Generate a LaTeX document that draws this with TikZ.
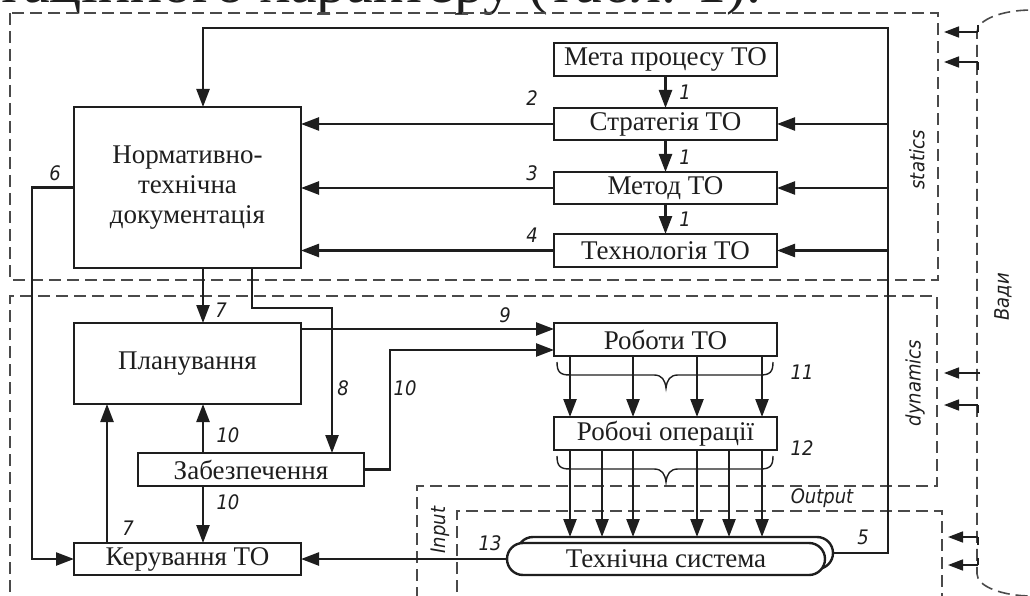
\documentclass[tikz,border=0pt]{standalone}
\usepackage{fontspec}
\setmainfont{Liberation Serif}
\newfontfamily\lbl{DejaVu Sans Condensed}
\usetikzlibrary{arrows.meta}
\definecolor{ink}{HTML}{1E1E1E}
\definecolor{dsh}{HTML}{4A4A4A}
\begin{document}
\begin{tikzpicture}[x=1pt,y=-1pt,
  box/.style={draw=ink,line width=2.4pt,fill=white,inner sep=0pt,outer sep=0pt,
    text=ink,font=\fontsize{27}{30}\selectfont,align=center},
  arr/.style={draw=ink,line width=2.4pt,-{Triangle[length=18pt,width=13pt]}},
  sarr/.style={draw=ink,line width=1.6pt,-{Triangle[length=15pt,width=11pt]}},
  tick/.style={draw=ink,line width=1.6pt},
  dshl/.style={draw=dsh,line width=1.6pt,dash pattern=on 12pt off 6pt},
  brc/.style={draw=ink,line width=1.4pt},
  lab/.style={font=\lbl\itshape\fontsize{20}{22}\selectfont,text=ink,inner sep=0pt},
]
\useasboundingbox (0,0) rectangle (1030,596);
% cut-off page text
\node[anchor=base west,inner sep=0pt,text=ink,font=\fontsize{60}{64}\selectfont] (pagetext) at (-4,3) {таційного характеру (табл. 1).};

% dashed regions
\draw[dshl] (10,13) rectangle (938,280);
\draw[dshl] (10,610) -- (10,296) -- (937,296) -- (937,486) -- (417,486) -- (417,610);
\draw[dshl] (457,610) -- (457,511) -- (942,511) -- (942,610);
\draw[dshl] (1100,10) -- (1032,10) arc[start angle=270,end angle=180,x radius=55,y radius=22]
  -- (977,574) arc[start angle=180,end angle=90,x radius=55,y radius=22] -- (1100,596);

% boxes
\node[box,minimum width=227pt,minimum height=161pt] (ntd) at (187.5,187.5)
  {Нормативно-\\технічна\\документація};
\node[box,minimum width=223pt,minimum height=33pt] (meta) at (665.5,59.5) {Мета процесу ТО};
\node[box,minimum width=223pt,minimum height=32pt] (strat) at (665.5,124) {Стратегія ТО};
\node[box,minimum width=223pt,minimum height=32pt] (metod) at (665.5,188) {Метод ТО};
\node[box,minimum width=223pt,minimum height=33pt] (tech) at (665.5,250.5) {Технологія ТО};
\node[box,minimum width=227pt,minimum height=81pt] (plan) at (187.5,363.5) {Планування};
\node[box,minimum width=226pt,minimum height=33pt] (zab) at (251,469.5) {Забезпечення};
\node[box,minimum width=227pt,minimum height=32pt] (ker) at (187.5,559) {Керування ТО};
\node[box,minimum width=223pt,minimum height=33pt] (rob) at (665.5,339.5) {Роботи ТО};
\node[box,minimum width=223pt,minimum height=33pt] (ops) at (665.5,433.5) {Робочі операції};
\node[box,rounded corners=16pt,minimum width=316pt,minimum height=32pt] (tsb) at (675,553) {};
\node[box,rounded corners=16pt,minimum width=318pt,minimum height=32pt] (tsf) at (666,559) {Технічна система};

% helper coordinates
\coordinate (fbtop) at (888,28);
\coordinate (fbleft) at (203,28);
\coordinate (xA) at (203,0);
\coordinate (xB) at (107,0);
\coordinate (x6) at (32,0);
\coordinate (c8a) at (252,308);
\coordinate (c8b) at (332,308);
\coordinate (y9) at (0,329);
\coordinate (c10) at (390,350);

% static part
\draw[arr] (tsb.east) -| (fbtop) -- (fbleft) -- (fbleft |- ntd.north);
\draw[arr] (fbtop |- strat.east) -- (strat.east);
\draw[arr] (fbtop |- metod.east) -- (metod.east);
\draw[arr] (fbtop |- tech.east) -- (tech.east);
\draw[arr] (meta.south) -- (strat.north);
\draw[arr] (strat.south) -- (metod.north);
\draw[arr] (metod.south) -- (tech.north);
\draw[arr] (strat.west) -- (strat.west -| ntd.east);
\draw[arr] (metod.west) -- (metod.west -| ntd.east);
\draw[arr] (tech.west) -- (tech.west -| ntd.east);
\draw[arr] (ntd.west) -| (x6 |- ker.west) -- (ker.west);

% dynamic part
\draw[arr] (xA |- ntd.south) -- (xA |- plan.north);
\draw[arr] (c8a |- ntd.south) -- (c8a) -- (c8b) -- (c8b |- zab.north);
\draw[arr] (plan.east |- y9) -- (rob.west |- y9);
\draw[arr] (zab.east) -| (c10) -- (rob.west |- c10);
\draw[arr] (xA |- zab.north) -- (xA |- plan.south);
\draw[arr] (xA |- zab.south) -- (xA |- ker.north);
\draw[arr] (xB |- ker.north) -- (xB |- plan.south);
\draw[arr] (tsf.west) -- (ker.east);
\foreach \x [count=\i] in {570,633,697,762}{
  \coordinate (r\i) at (\x,0);
  \draw[arr] (r\i |- rob.south) -- (r\i |- ops.north);
}
\foreach \x [count=\i] in {570,602,633,697,729,762}{
  \coordinate (o\i) at (\x,0);
  \draw[arr] (o\i |- ops.south) -- (o\i |- tsb.north);
}

% braces
\draw[brc] (557,362) .. controls (557,372) and (560,375) .. (570,375) -- (654,375)
  .. controls (662,375) and (665,380) .. (666,388) .. controls (667,380) and (670,375) .. (678,375)
  -- (760,375) .. controls (770,375) and (773,372) .. (773,362);
\draw[brc] (557,456) .. controls (557,466) and (560,469) .. (570,469) -- (654,469)
  .. controls (662,469) and (665,474) .. (666,482) .. controls (667,474) and (670,469) .. (678,469)
  -- (760,469) .. controls (770,469) and (773,466) .. (773,456);

% side input arrows
\draw[sarr] (978,32) -- (944,32); \draw[tick] (978,25) -- (978,32);
\draw[sarr] (978,62) -- (944,62); \draw[tick] (978,62) -- (978,70);
\draw[sarr] (980,373) -- (944,373);
\draw[sarr] (978,405) -- (944,405); \draw[tick] (978,405) -- (978,413);
\draw[sarr] (978,537) -- (948,537); \draw[tick] (978,537) -- (978,545);
\draw[sarr] (978,565) -- (948,565); \draw[tick] (978,558) -- (978,565);

% number labels
\node[lab] (l1a) at (685,92) {1};
\node[lab] (l1b) at (685,157) {1};
\node[lab] (l1c) at (685,219) {1};
\node[lab] (l2) at (532,98) {2};
\node[lab] (l3) at (532,173) {3};
\node[lab] (l4) at (532,235) {4};
\node[lab] (l5) at (863,537) {5};
\node[lab] (l6) at (55,173) {6};
\node[lab] (l7a) at (221,310) {7};
\node[lab] (l7b) at (128,528) {7};
\node[lab] (l8) at (343,388) {8};
\node[lab] (l9) at (505,315) {9};
\node[lab] (l10a) at (405,388) {10};
\node[lab] (l10b) at (228,435) {10};
\node[lab] (l10c) at (228,502) {10};
\node[lab] (l11) at (802,372) {11};
\node[lab] (l12) at (802,448) {12};
\node[lab] (l13) at (490,543) {13};

% region labels
\node[lab,rotate=90] (lstat) at (917,160) {statics};
\node[lab,rotate=90] (ldyn) at (915,383) {dynamics};
\node[lab,rotate=90] (linp) at (440,530) {Input};
\node[lab] (lout) at (822,498) {Output};
\node[lab,rotate=90] (lvad) at (1003,297) {Вади};
\end{tikzpicture}
\end{document}
